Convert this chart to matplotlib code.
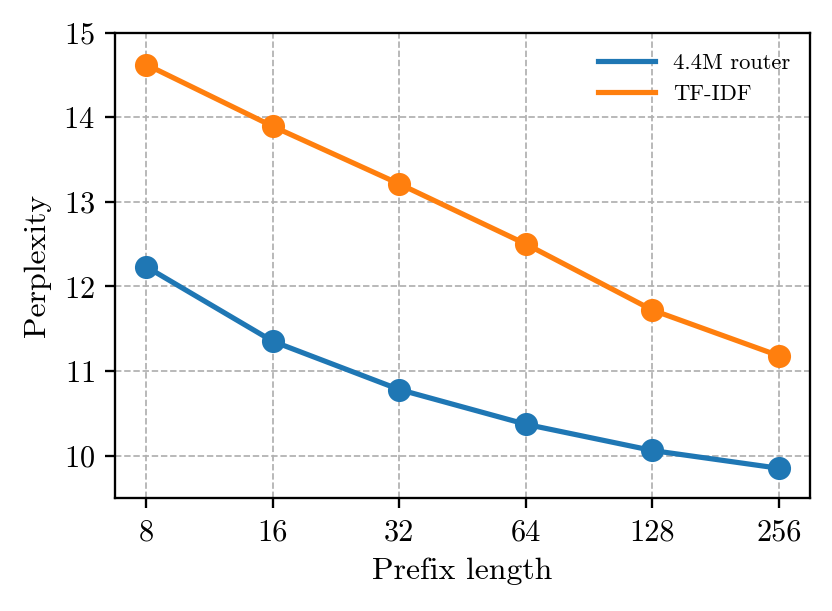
import numpy as np
import matplotlib
matplotlib.use("Agg")
import matplotlib.pyplot as plt

plt.rcParams['font.family'] = ['cmr10', 'DejaVu Serif']
plt.rcParams['mathtext.fontset'] = 'cm'
plt.rcParams['axes.unicode_minus'] = False
plt.rcParams['axes.formatter.use_mathtext'] = True

prefix = [8, 16, 32, 64, 128, 256]
router = [12.23, 11.35, 10.78, 10.37, 10.06, 9.85]
tfidf = [14.62, 13.89, 13.21, 12.50, 11.72, 11.18]

x = np.arange(len(prefix))
fig, ax = plt.subplots(figsize=(4, 2.94), dpi=208)
# lines carry the legend, markers drawn on top without labels
ax.plot(x, router, '-', color='#1f77b4', lw=1.8, label='4.4M router')
ax.plot(x, tfidf, '-', color='#ff7f0e', lw=1.8, label='TF-IDF')
ax.plot(x, router, 'o', color='#1f77b4', ms=7)
ax.plot(x, tfidf, 'o', color='#ff7f0e', ms=7)
ax.set_xticks(x)
ax.set_xticklabels([str(p) for p in prefix])
ax.set_yticks([10, 11, 12, 13, 14, 15])
ax.set_ylim(9.5, 15)
ax.tick_params(labelsize=10.5)
ax.set_xlabel('Prefix length', fontsize=11)
ax.set_ylabel('Perplexity', fontsize=11)
ax.grid(True, ls='--', lw=0.6, color='#b0b0b0')
ax.legend(frameon=False, fontsize=7.8, loc='upper right', handlelength=2.5)
plt.subplots_adjust(left=0.138, right=0.974, top=0.946, bottom=0.185)
plt.savefig('out.png', dpi=208)
